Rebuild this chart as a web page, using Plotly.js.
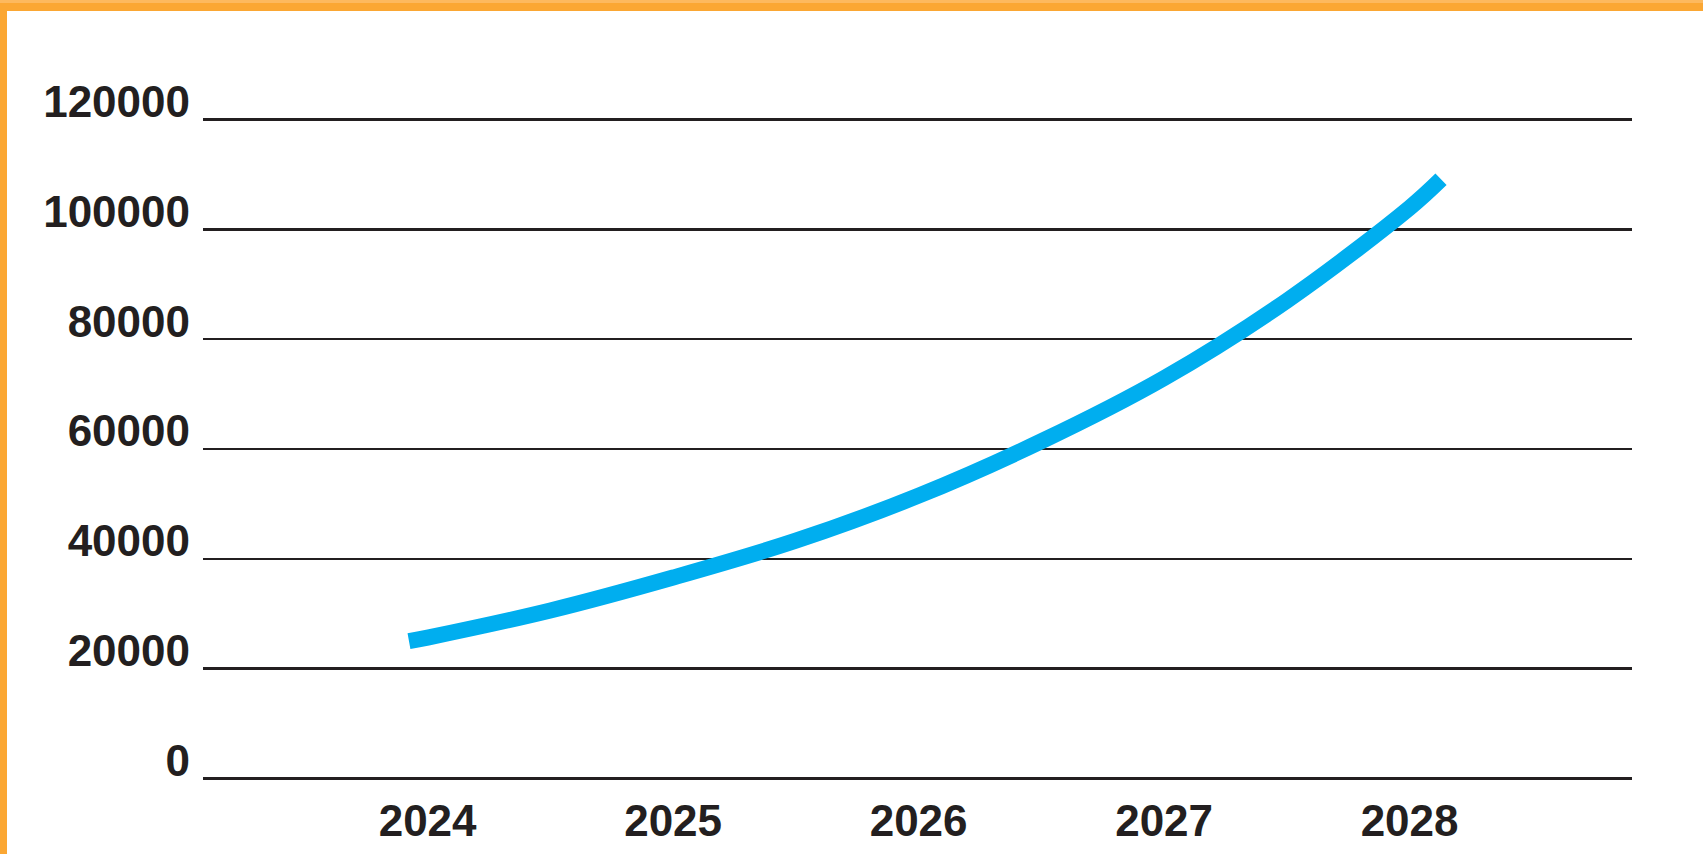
<!DOCTYPE html>
<html>
<head>
<meta charset="utf-8">
<script src="https://cdn.plot.ly/plotly-3.0.1.min.js"></script>
<style>
  html, body { margin: 0; padding: 0; background: #ffffff; overflow: hidden; }
  #chart { width: 1703px; height: 854px; }
  .frame-top { position: absolute; left: 0; top: 0; width: 1703px; height: 11px; background: #fba733; }
  .frame-top-light { position: absolute; left: 0; top: 0; width: 1703px; height: 3px; background: #fdb95e; }
  .frame-left { position: absolute; left: 0; top: 0; width: 7px; height: 854px; background: #fba733; }
</style>
</head>
<body>
<div id="chart"></div>
<div class="frame-left"></div>
<div class="frame-top"></div>
<div class="frame-top-light"></div>
<script>
// Curve points (year position, value)
const curveYears = [2023.924, 2024, 2024.5, 2025, 2025.5, 2026, 2026.5, 2027, 2027.5, 2028, 2028.128];
const curveValues = [25000, 25660, 30600, 36600, 43300, 51500, 61400, 72900, 87000, 103900, 109100];

// Axis ticks
const yearTicks = [2024, 2025, 2026, 2027, 2028];
const yearLabels = ['2024', '2025', '2026', '2027', '2028'];
const valueTicks = [0, 20000, 40000, 60000, 80000, 100000, 120000];
const valueLabels = ['0', '20000', '40000', '60000', '80000', '100000', '120000'];

const textColor = '#231f20';
const tickFont = { family: 'Liberation Sans, Arial, sans-serif', size: 44, color: textColor, weight: 'bold' };

const trace = {
  x: curveYears,
  y: curveValues,
  type: 'scatter',
  mode: 'lines',
  line: { color: '#00aeef', width: 16, shape: 'spline', smoothing: 1 },
  hoverinfo: 'skip'
};

const layout = {
  width: 1703,
  height: 854,
  margin: { l: 203, r: 71, t: 114, b: 70 },
  paper_bgcolor: '#ffffff',
  plot_bgcolor: '#ffffff',
  showlegend: false,
  xaxis: {
    range: [2023.085, 2028.906],
    tickmode: 'array',
    tickvals: yearTicks,
    ticktext: yearLabels,
    showgrid: false,
    zeroline: false,
    showline: false,
    ticks: '',
    tickfont: tickFont,
    ticklabelstandoff: 7
  },
  yaxis: {
    range: [-1000, 121000],
    tickmode: 'array',
    tickvals: valueTicks,
    ticktext: valueLabels,
    showgrid: true,
    gridcolor: '#231f20',
    gridwidth: 2.5,
    zeroline: false,
    showline: false,
    ticks: '',
    tickfont: tickFont,
    ticklabelstandoff: 12,
    ticklabelshift: -18
  }
};

Plotly.newPlot('chart', [trace], layout, { displayModeBar: false, staticPlot: true });
</script>
</body>
</html>
